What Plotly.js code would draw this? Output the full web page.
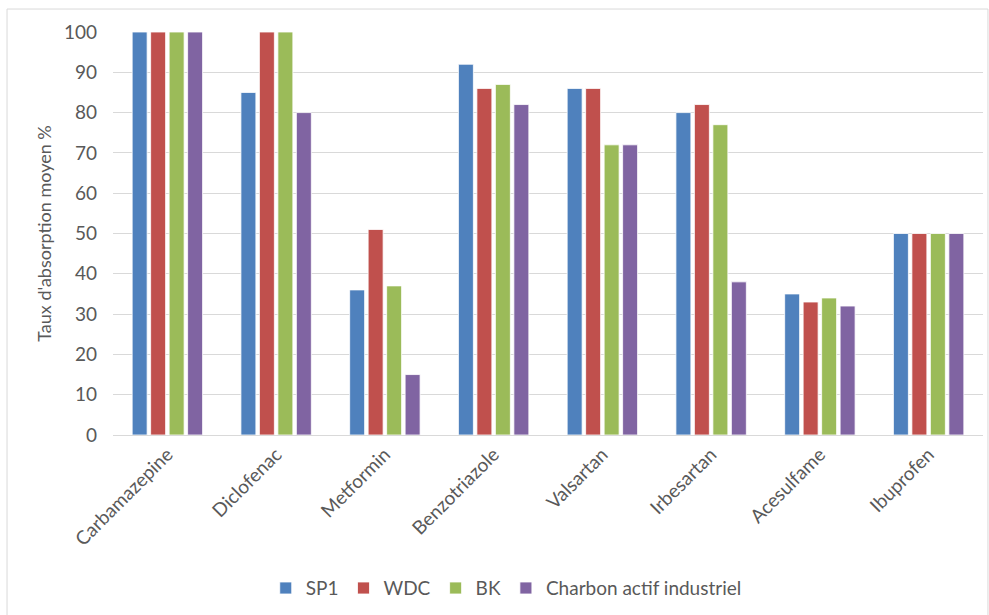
<!DOCTYPE html>
<html>
<head>
<meta charset="utf-8">
<script src="https://cdn.plot.ly/plotly-3.0.1.min.js"></script>
<style>html,body{margin:0;padding:0;background:#fff;}#chart{width:989px;height:615px;}</style>
</head>
<body>
<div id="chart"></div>
<script>
const categories = ["Carbamazepine","Diclofenac","Metformin","Benzotriazole","Valsartan","Irbesartan","Acesulfame","Ibuprofen"];
const seriesNames = ["SP1","WDC","BK","Charbon actif industriel"];
const sp1 = [100, 85, 36, 92, 86, 80, 35, 50];
const wdc = [100, 100, 51, 86, 86, 82, 33, 50];
const bk = [100, 100, 37, 87, 72, 77, 34, 50];
const charbon = [100, 80, 15, 82, 72, 38, 32, 50];
const yTicks = [0,10,20,30,40,50,60,70,80,90,100];
const colors = ["#4F81BD","#C0504D","#9BBB59","#8064A2"];

const allValues = [sp1, wdc, bk, charbon];
const traces = allValues.map((vals, i) => ({
  type: 'bar',
  name: seriesNames[i],
  x: categories,
  y: vals,
  marker: {color: colors[i], line: {color: '#ffffff', width: 0.8}},
  hoverinfo: 'x+y+name'
}));

const font = "Lato, 'Open Sans', 'Liberation Sans', sans-serif";
const layout = {
  width: 989, height: 615,
  margin: {l: 113, r: 6, t: 32, b: 180},
  paper_bgcolor: '#ffffff', plot_bgcolor: '#ffffff',
  font: {family: font, color: '#595959', size: 19},
  barmode: 'group',
  bargap: 0.32,
  bargroupgap: 0.19,
  showlegend: true,
  legend: {orientation: 'h', x: 0.452, xanchor: 'center', y: -0.38, yanchor: 'middle',
           font: {size: 19, color: '#595959'}, itemwidth: 30, traceorder: 'normal'},
  xaxis: {
    type: 'category',
    tickangle: -45,
    tickfont: {size: 19, color: '#595959'},
    showgrid: false,
    showline: true, linecolor: '#d9d9d9', linewidth: 1,
    ticks: '', zeroline: false
  },
  yaxis: {
    range: [0, 100],
    tickvals: yTicks,
    ticktext: yTicks.map(String),
    tickfont: {size: 19, color: '#595959'},
    showgrid: true, gridcolor: '#d9d9d9', gridwidth: 1,
    zeroline: false, showline: false,
    ticks: '', ticklabelstandoff: 15,
    title: {text: "Taux d'absorption moyen %", font: {size: 18, color: '#595959'}, standoff: 7}
  },
  shapes: [{
    type: 'rect', xref: 'paper', yref: 'paper',
    x0: -0.1218, x1: 1.0057, y0: -0.5, y1: 1.057,
    line: {color: '#d9d9d9', width: 1}, fillcolor: 'rgba(0,0,0,0)', layer: 'below'
  }]
};

Plotly.newPlot('chart', traces, layout, {displayModeBar: false, staticPlot: true});
</script>
</body>
</html>
